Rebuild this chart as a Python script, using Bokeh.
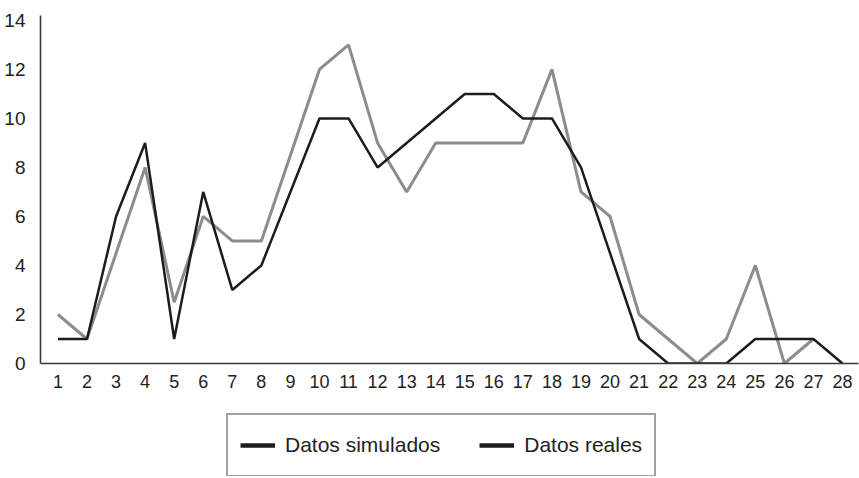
from bokeh.plotting import figure
from bokeh.layouts import column
from bokeh.models import FixedTicker, Legend, LegendItem, Range1d, ColumnDataSource
from bokeh.embed import file_html
from bokeh.resources import INLINE

# ---- data ----
days = list(range(1, 29))
simulados = [1, 1, 6, 9, 1, 7, 3, 4, 7, 10, 10, 8, 9, 10, 11, 11, 10, 10, 8, 4.5, 1, 0, 0, 0, 1, 1, 1, 0]
reales_days = list(range(1, 28))
reales = [2, 1, 4.5, 8, 2.5, 6, 5, 5, 8.5, 12, 13, 9, 7, 9, 9, 9, 9, 12, 7, 6, 2, 1, 0, 1, 4, 0, 1]
y_ticks = [0, 2, 4, 6, 8, 10, 12, 14]
labels = ["Datos simulados", "Datos reales"]

FONT = "Liberation Sans"
W = 859

p = figure(width=W, height=405,
           x_range=Range1d(0.4, 28.55), y_range=Range1d(0, 14.2),
           output_backend="svg", toolbar_location=None,
           min_border_left=40, min_border_right=1, min_border_top=15, min_border_bottom=42)
p.outline_line_color = None
p.xgrid.visible = False
p.ygrid.visible = False

src_sim = ColumnDataSource(dict(x=days, y=simulados))
src_real = ColumnDataSource(dict(x=reales_days, y=reales))

p.line("x", "y", source=src_real, line_color="#8c8c8c", line_width=3)
p.line("x", "y", source=src_sim, line_color="#1c1c1c", line_width=2.5)

for ax in (p.xaxis[0], p.yaxis[0]):
    ax.axis_line_color = "#3a3a3a"
    ax.axis_line_width = 1.6
    ax.major_tick_line_color = None
    ax.minor_tick_line_color = None
    ax.major_label_text_font = FONT
    ax.major_label_text_color = "#222222"

p.xaxis.ticker = FixedTicker(ticks=days)
p.xaxis.major_label_text_font_size = "18px"
p.xaxis.major_label_standoff = 5
p.yaxis.ticker = FixedTicker(ticks=y_ticks)
p.yaxis.major_label_text_font_size = "19px"
p.yaxis.major_label_standoff = 9

# ---- legend strip (box runs past the bottom edge, as in the original) ----
pl = figure(width=W, height=71, x_axis_type=None, y_axis_type=None,
            x_range=Range1d(100, 101), y_range=Range1d(100, 101),
            output_backend="svg", toolbar_location=None,
            min_border_left=0, min_border_right=0, min_border_top=0, min_border_bottom=0)
pl.outline_line_color = None
pl.xgrid.visible = False
pl.ygrid.visible = False
# hidden copies of the series, used only for the (black) legend swatches
sw1 = pl.line("x", "y", source=src_sim, line_color="#1c1c1c", line_width=4.5, visible=False)
sw2 = pl.line("x", "y", source=src_real, line_color="#1c1c1c", line_width=4.5, visible=False)

legend = Legend(items=[LegendItem(label=labels[0], renderers=[sw1]),
                       LegendItem(label=labels[1], renderers=[sw2])],
                orientation="horizontal", location=(186, -1),
                padding=12, spacing=39, margin=0,
                glyph_width=35, glyph_height=36, label_standoff=10,
                label_text_font=FONT, label_text_font_size="21px",
                label_text_color="#222222",
                border_line_color="#444444", border_line_width=2,
                background_fill_color="white", background_fill_alpha=1)
pl.add_layout(legend, "center")

layout = column(p, pl, spacing=0)
open("out.html", "w").write(file_html(layout, INLINE))
